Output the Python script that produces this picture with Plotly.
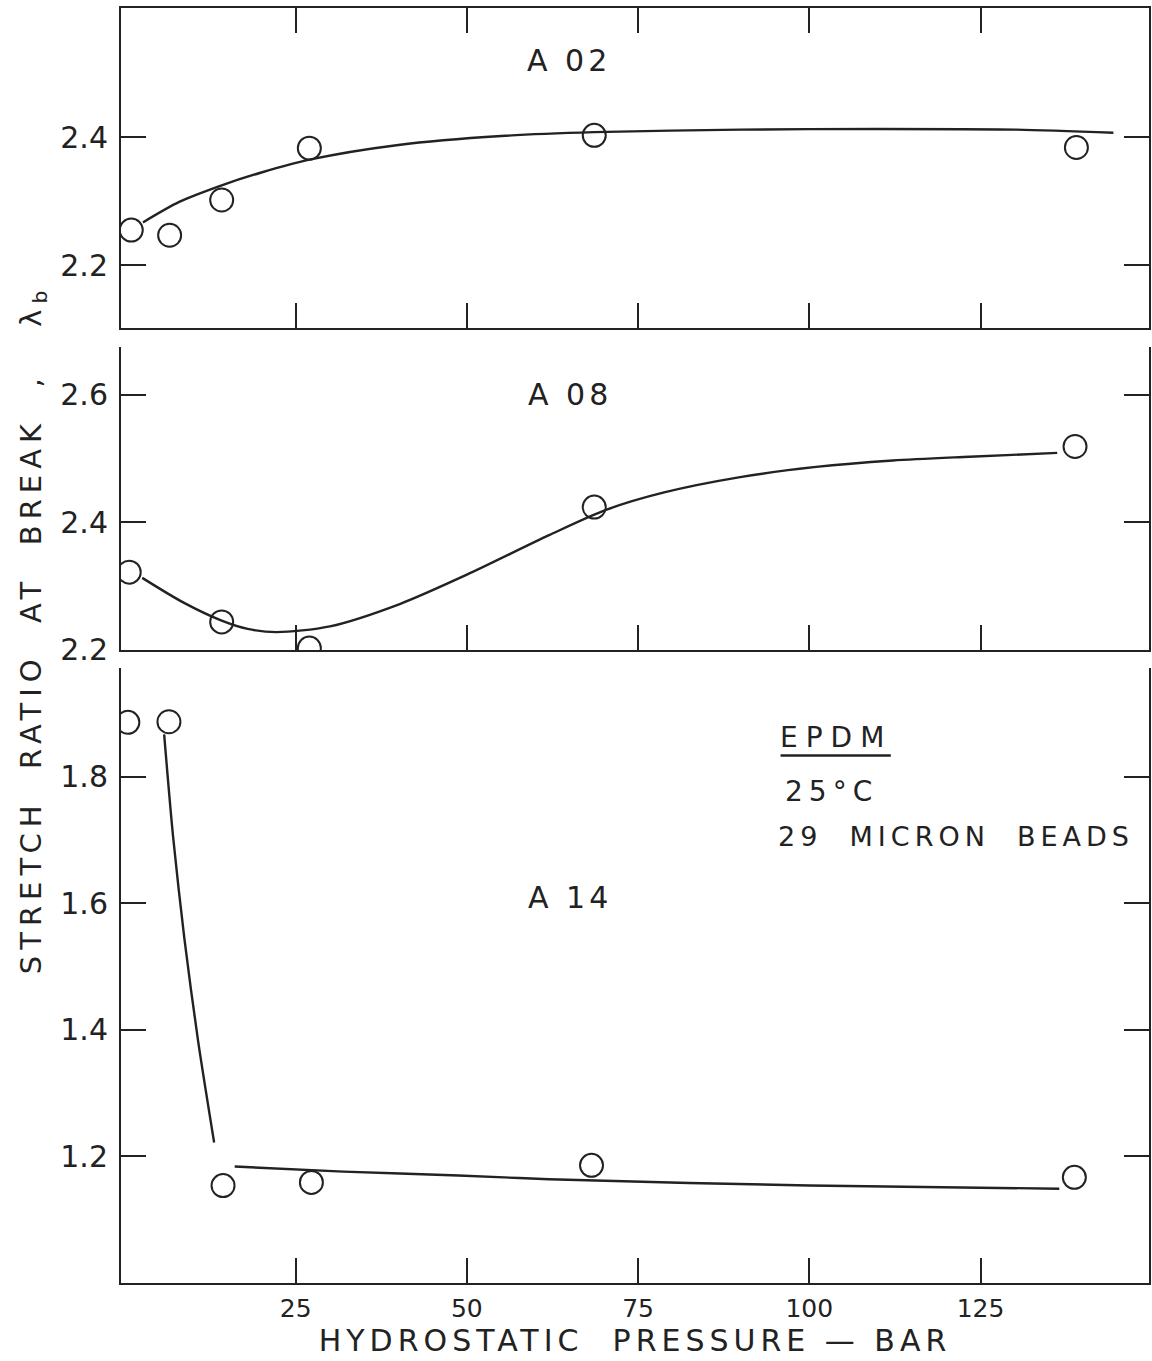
import plotly.graph_objects as go

# ---------------- data ----------------
# A02 panel
a02_px = [1.0, 6.6, 14.2, 27.0, 68.6, 139.0]
a02_py = [2.255, 2.247, 2.302, 2.383, 2.403, 2.384]
a02_cx = [2.7, 8, 14.2, 20, 27, 40, 55, 68.6, 90, 110, 130, 144.4]
a02_cy = [2.267, 2.299, 2.325, 2.345, 2.365, 2.388, 2.402, 2.408, 2.412, 2.413, 2.412, 2.407]

# A08 panel
a08_px = [0.7, 14.2, 27.0, 68.6, 138.8]
a08_py = [2.322, 2.244, 2.203, 2.424, 2.519]
a08_cx = [2.6, 8.5, 14.2, 18, 22.2, 30, 40.2, 50, 62, 70.4, 78.8, 89.9, 101, 112.2, 123.4, 136.2]
a08_cy = [2.313, 2.275, 2.246, 2.233, 2.228, 2.237, 2.272, 2.318, 2.38, 2.42, 2.447, 2.471, 2.487, 2.497, 2.503, 2.509]

# A14 panel
a14_px = [0.5, 6.5, 14.4, 27.3, 68.2, 138.7]
a14_py = [1.886, 1.887, 1.154, 1.159, 1.186, 1.167]
a14_c1x = [5.8, 7.10, 8.75, 10.75, 13.1]
a14_c1y = [1.867, 1.706, 1.5445, 1.383, 1.222]
a14_c2x = [16.1, 32, 48.8, 62, 100, 136.5]
a14_c2y = [1.184, 1.176, 1.170, 1.164, 1.154, 1.149]

x_ticks = [25, 50, 75, 100, 125]
y1_ticks = [2.2, 2.4]
y2_ticks = [2.2, 2.4, 2.6]
y3_ticks = [1.2, 1.4, 1.6, 1.8]

# ---------------- style ----------------
INK = "#222222"
FONT = "DejaVu Sans"
LW = 2.4

fig = go.Figure()

def add_curve(x, y, xa, ya, sm=0.8):
    fig.add_trace(go.Scatter(x=x, y=y, mode="lines", xaxis=xa, yaxis=ya,
                             line=dict(color=INK, width=LW, shape="spline", smoothing=sm),
                             showlegend=False, hoverinfo="skip"))

def add_pts(x, y, xa, ya):
    fig.add_trace(go.Scatter(x=x, y=y, mode="markers", xaxis=xa, yaxis=ya,
                             marker=dict(symbol="circle-open", size=23, color=INK,
                                         line=dict(width=2, color=INK)),
                             showlegend=False, hoverinfo="skip"))

add_curve(a02_cx, a02_cy, "x", "y")
add_pts(a02_px, a02_py, "x", "y")
add_curve(a08_cx, a08_cy, "x2", "y2")
add_pts(a08_px, a08_py, "x2", "y2")
add_curve(a14_c1x, a14_c1y, "x3", "y3")
add_curve(a14_c2x, a14_c2y, "x3", "y3")
add_pts(a14_px, a14_py, "x3", "y3")

XR = [-0.5, 149.6]
common_x = dict(range=XR, tickvals=x_ticks, ticks="inside", ticklen=25, tickwidth=2,
                tickcolor=INK, showline=True, linecolor=INK, linewidth=2,
                showgrid=False, zeroline=False)
common_y = dict(ticks="inside", ticklen=25, tickwidth=2, tickcolor=INK,
                showline=True, linecolor=INK, linewidth=2, mirror="ticks",
                showgrid=False, zeroline=False,
                tickfont=dict(family=FONT, size=30, color=INK),
                ticklabelstandoff=5)

fig.update_layout(
    width=1152, height=1361,
    margin=dict(l=121, r=1, t=8, b=78),
    paper_bgcolor="white", plot_bgcolor="white",
    font=dict(family=FONT, color=INK),
    xaxis=dict(**common_x, domain=[0, 1], mirror="ticks", showticklabels=False, anchor="y"),
    yaxis=dict(**common_y, domain=[0.749, 1.0], range=[2.102, 2.602], tickvals=y1_ticks,
               ticktext=["2.2", "2.4"], anchor="x"),
    xaxis2=dict(**common_x, domain=[0, 1], showticklabels=False, anchor="y2"),
    yaxis2=dict(**common_y, domain=[0.4965, 0.7341], range=[2.2, 2.675], tickvals=y2_ticks,
                ticktext=["2.2", "2.4", "2.6"], anchor="x2"),
    xaxis3=dict(**common_x, domain=[0, 1], anchor="y3",
                ticktext=["25", "50", "75", "100", "125"],
                tickfont=dict(family=FONT, size=25, color=INK), ticklabelstandoff=2,
                title=dict(text='<span style="letter-spacing:5px">HYDROSTATIC  PRESSURE — BAR</span>',
                           font=dict(family=FONT, size=30, color=INK), standoff=2)),
    yaxis3=dict(**common_y, domain=[0, 0.4824], range=[1.0, 1.972], tickvals=y3_ticks,
                ticktext=["1.2", "1.4", "1.6", "1.8"], anchor="x3"),
)

ann_font = dict(family=FONT, size=30, color=INK)
fig.add_annotation(x=64.9, y=2.52, xref="x", yref="y", text='<span style="letter-spacing:4px">A 02</span>',
                   showarrow=False, font=ann_font)
fig.add_annotation(x=65.1, y=2.60, xref="x2", yref="y2", text='<span style="letter-spacing:4px">A 08</span>',
                   showarrow=False, font=ann_font)
fig.add_annotation(x=65.1, y=1.609, xref="x3", yref="y3", text='<span style="letter-spacing:4px">A 14</span>',
                   showarrow=False, font=ann_font)

blk_font = dict(family=FONT, size=27, color=INK)
fig.add_annotation(x=95.4, y=1.862, xref="x3", yref="y3", xanchor="left",
                   text='<span style="letter-spacing:8px">EPDM</span>', showarrow=False,
                   font=dict(family=FONT, size=28, color=INK))
fig.add_annotation(x=96.2, y=1.777, xref="x3", yref="y3", xanchor="left",
                   text='<span style="letter-spacing:6px">25°C</span>', showarrow=False,
                   font=dict(family=FONT, size=28, color=INK))
fig.add_annotation(x=95.2, y=1.706, xref="x3", yref="y3", xanchor="left",
                   text='<span style="letter-spacing:5px">29  MICRON  BEADS</span>', showarrow=False,
                   font=blk_font)
fig.add_shape(type="line", xref="x3", yref="y3", x0=95.8, x1=111.9, y0=1.8335, y1=1.8335,
              line=dict(color=INK, width=2.5))

fig.add_annotation(x=-0.1058, y=0.513, xref="paper", yref="paper", textangle=-90,
                   text='<span style="letter-spacing:6px">STRETCH  RATIO  AT  BREAK  ,   λ<sub>b</sub></span>',
                   showarrow=False, font=dict(family=FONT, size=29, color=INK))

fig.write_html("out.html")
